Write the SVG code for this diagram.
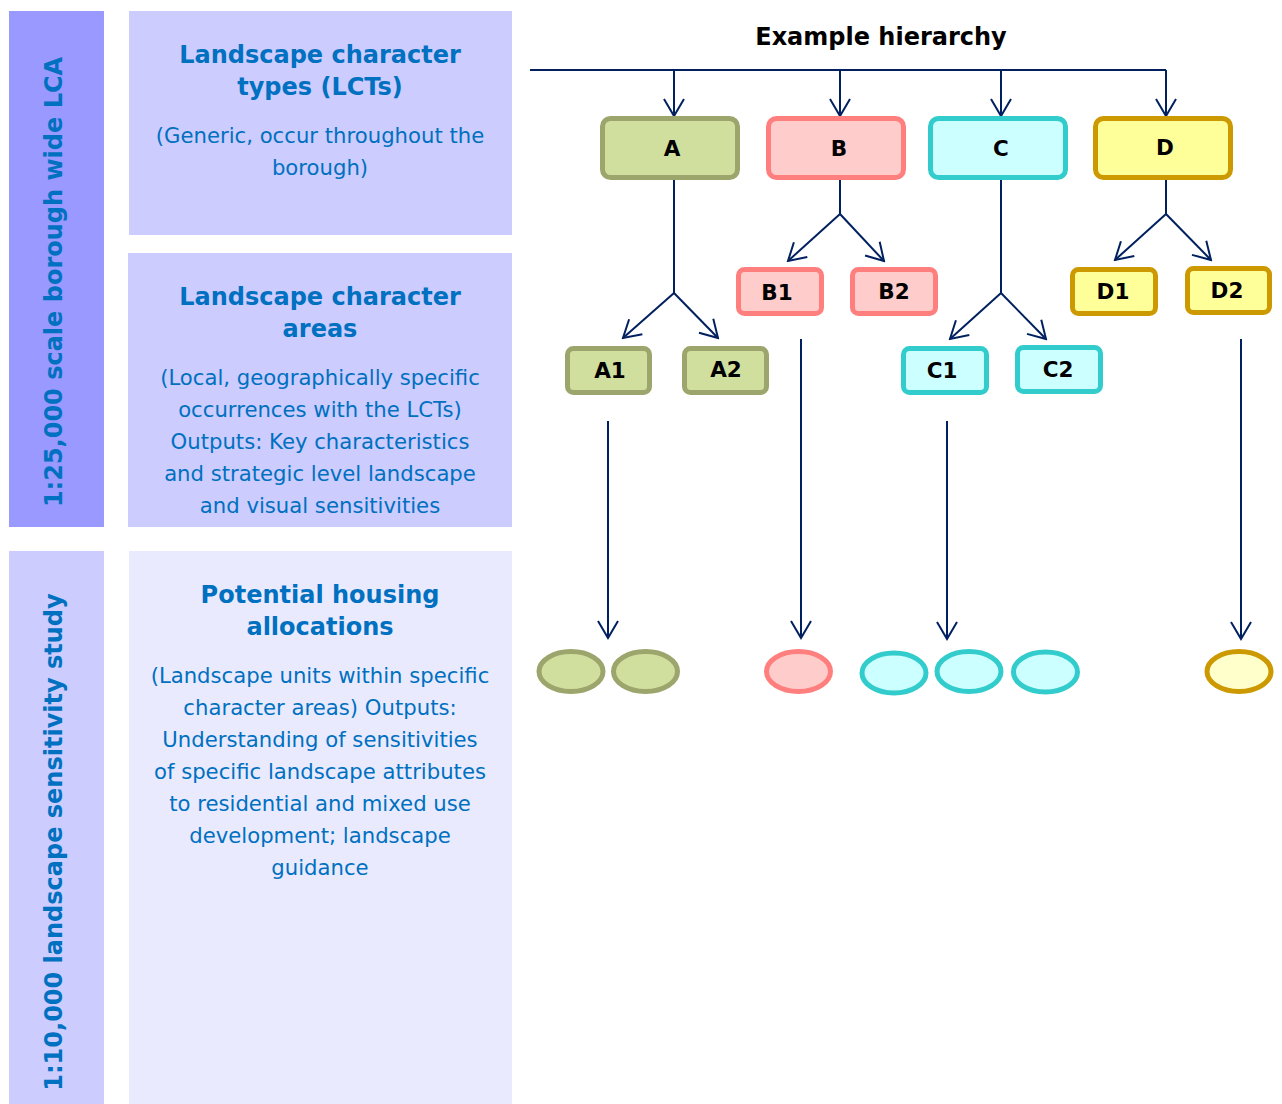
<svg xmlns="http://www.w3.org/2000/svg" width="1282" height="1104" viewBox="0 0 1282 1104">
<style>
.t{font-family:"DejaVu Sans","Verdana",sans-serif;fill:#0070C0;text-anchor:middle}
.h{font-size:24px;font-weight:bold}
.b{font-size:21.2px}
.v{font-family:"DejaVu Sans",sans-serif;fill:#0070C0;font-size:24px;font-weight:bold;text-anchor:middle}
.lbl{font-family:"DejaVu Sans",sans-serif;font-size:21.5px;font-weight:bold;fill:#000;text-anchor:middle}
.ttl{font-family:"DejaVu Sans",sans-serif;font-size:24px;font-weight:bold;fill:#000;text-anchor:middle}
.g{fill:#D1DF9E;stroke:#9BA56C;stroke-width:5}
.p{fill:#FFCCCC;stroke:#FF7F7F;stroke-width:5}
.c{fill:#CCFFFF;stroke:#33CCCC;stroke-width:5}
.y{fill:#FFFF99;stroke:#CC9900;stroke-width:5}
.yl{fill:#FFFFCC;stroke:#CC9900;stroke-width:5}
.cn path{fill:none;stroke:#002060;stroke-width:2}
.ar{marker-end:url(#arr)}
</style>
<defs>
<marker id="arr" markerUnits="userSpaceOnUse" viewBox="-20 -12 22 24" markerWidth="22" markerHeight="24" refX="0" refY="0" orient="auto">
<path d="M-17,-10 L0,0 L-17,10" fill="none" stroke="#002060" stroke-width="2"/>
</marker>
</defs>
<rect width="1282" height="1104" fill="#fff"/>
<g id="scale1">
<rect x="9" y="11" width="95" height="516" fill="#9999FF"/>
<text class="v" transform="translate(62,282) rotate(-90)">1:25,000 scale borough wide LCA</text>
</g>
<g id="scale2">
<rect x="9" y="551" width="95" height="553" fill="#CCCCFF"/>
<text class="v" transform="translate(62,842) rotate(-90)">1:10,000 landscape sensitivity study</text>
</g>
<g id="lct">
<rect x="129" y="11" width="383" height="224" fill="#CCCCFF"/>
<text class="t h" x="320" y="63">Landscape character</text>
<text class="t h" x="320" y="95">types (LCTs)</text>
<text class="t b" x="320" y="143">(Generic, occur throughout the</text>
<text class="t b" x="320" y="175">borough)</text>
</g>
<g id="lca">
<rect x="128" y="253" width="384" height="274" fill="#CCCCFF"/>
<text class="t h" x="320" y="305">Landscape character</text>
<text class="t h" x="320" y="337">areas</text>
<text class="t b" x="320" y="385">(Local, geographically specific</text>
<text class="t b" x="320" y="417">occurrences with the LCTs)</text>
<text class="t b" x="320" y="449">Outputs: Key characteristics</text>
<text class="t b" x="320" y="481">and strategic level landscape</text>
<text class="t b" x="320" y="513">and visual sensitivities</text>
</g>
<g id="pha">
<rect x="129" y="551" width="383" height="553" fill="#EAEAFF"/>
<text class="t h" x="320" y="603">Potential housing</text>
<text class="t h" x="320" y="635">allocations</text>
<text class="t b" x="320" y="683">(Landscape units within specific</text>
<text class="t b" x="320" y="715">character areas) Outputs:</text>
<text class="t b" x="320" y="747">Understanding of sensitivities</text>
<text class="t b" x="320" y="779">of specific landscape attributes</text>
<text class="t b" x="320" y="811">to residential and mixed use</text>
<text class="t b" x="320" y="843">development; landscape</text>
<text class="t b" x="320" y="875">guidance</text>
</g>
<g id="title"><text class="ttl" x="881" y="45">Example hierarchy</text></g>
<g id="connectors" class="cn">
<path d="M530,70 H1166"/>
<path class="ar" d="M674,70 V116"/>
<path class="ar" d="M840,70 V116"/>
<path class="ar" d="M1001,70 V116"/>
<path class="ar" d="M1166,70 V116"/>
<path d="M674,180 V293"/>
<path class="ar" d="M674,293 L623,338"/>
<path class="ar" d="M674,293 L718,338"/>
<path d="M840,180 V214"/>
<path class="ar" d="M840,214 L788,261"/>
<path class="ar" d="M840,214 L884,261"/>
<path d="M1001,180 V293"/>
<path class="ar" d="M1001,293 L950,339"/>
<path class="ar" d="M1001,293 L1046,339"/>
<path d="M1166,180 V214"/>
<path class="ar" d="M1166,214 L1115,260"/>
<path class="ar" d="M1166,214 L1211,260"/>
<path class="ar" d="M608,421 V638"/>
<path class="ar" d="M801,339 V638"/>
<path class="ar" d="M947,421 V639"/>
<path class="ar" d="M1241,339 V639"/>
</g>
<g id="A"><rect class="g" x="602.5" y="118.5" width="135" height="59" rx="8"/><text class="lbl" x="672" y="156">A</text></g>
<g id="B"><rect class="p" x="768.5" y="118.5" width="135" height="59" rx="8"/><text class="lbl" x="839" y="156">B</text></g>
<g id="C"><rect class="c" x="930.5" y="118.5" width="135" height="59" rx="8"/><text class="lbl" x="1001" y="156">C</text></g>
<g id="D"><rect class="y" x="1095.5" y="118.5" width="135" height="59" rx="8"/><text class="lbl" x="1165" y="155">D</text></g>
<g id="A1"><rect class="g" x="567.5" y="348.5" width="82" height="44" rx="6"/><text class="lbl" x="610" y="378">A1</text></g>
<g id="A2"><rect class="g" x="684.5" y="348.5" width="82" height="44" rx="6"/><text class="lbl" x="726" y="377">A2</text></g>
<g id="B1"><rect class="p" x="738.5" y="269.5" width="83" height="44" rx="6"/><text class="lbl" x="777" y="300">B1</text></g>
<g id="B2"><rect class="p" x="852.5" y="269.5" width="83" height="44" rx="6"/><text class="lbl" x="894" y="299">B2</text></g>
<g id="C1"><rect class="c" x="903.5" y="348.5" width="83" height="44" rx="6"/><text class="lbl" x="942" y="378">C1</text></g>
<g id="C2"><rect class="c" x="1017.5" y="347.5" width="83" height="44" rx="6"/><text class="lbl" x="1058" y="377">C2</text></g>
<g id="D1"><rect class="y" x="1072.5" y="269.5" width="83" height="44" rx="6"/><text class="lbl" x="1113" y="299">D1</text></g>
<g id="D2"><rect class="y" x="1187.5" y="268.5" width="82" height="44" rx="6"/><text class="lbl" x="1227" y="298">D2</text></g>
<g id="units">
<ellipse class="g" cx="571" cy="671.5" rx="32" ry="20"/>
<ellipse class="g" cx="645.5" cy="671.5" rx="32" ry="20"/>
<ellipse class="p" cx="798.5" cy="671.5" rx="32" ry="20"/>
<ellipse class="c" cx="894" cy="673" rx="32" ry="20"/>
<ellipse class="c" cx="969" cy="671.5" rx="32" ry="20"/>
<ellipse class="c" cx="1045.5" cy="672" rx="32" ry="20"/>
<ellipse class="yl" cx="1239" cy="671.5" rx="32" ry="20"/>
</g>
</svg>
